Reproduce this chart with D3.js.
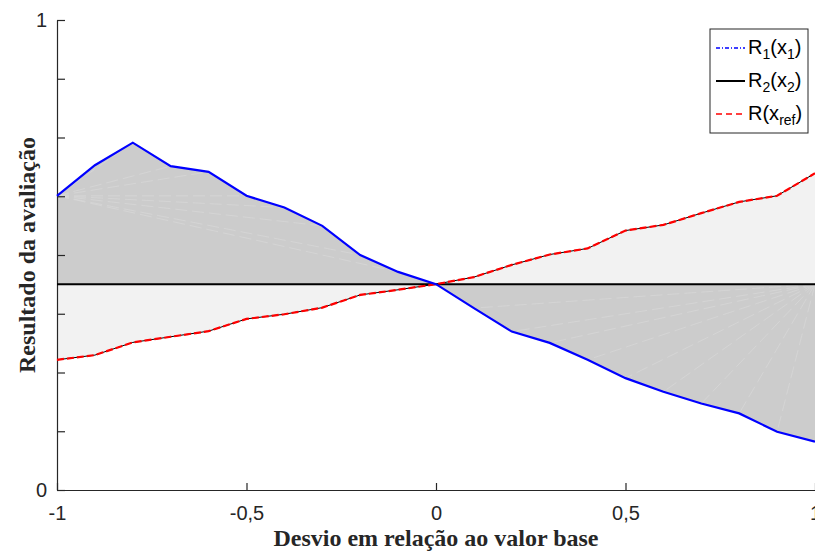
<!DOCTYPE html>
<html>
<head>
<meta charset="utf-8">
<script src="https://cdn.jsdelivr.net/npm/d3@7"></script>
<style>
  body { margin: 0; background: #fff; }
  svg { display: block; }
</style>
</head>
<body>
<script>
(function(){
  var width = 815;
  var height = 554;
  var margin = { top: 20, right: 0, bottom: 64, left: 57 };

  // desvio em relacao ao valor base
  var desvio = [-1, -0.9, -0.8, -0.7, -0.6, -0.5, -0.4, -0.3, -0.2, -0.1, 0,
                0.1, 0.2, 0.3, 0.4, 0.5, 0.6, 0.7, 0.8, 0.9, 1];
  var r1 = [0.626, 0.691, 0.739, 0.689, 0.677, 0.626, 0.601, 0.562, 0.500, 0.464, 0.438,
            0.387, 0.337, 0.313, 0.277, 0.238, 0.209, 0.184, 0.163, 0.124, 0.103];
  var rRef = [0.277, 0.287, 0.314, 0.326, 0.338, 0.364, 0.374, 0.388, 0.415, 0.426, 0.438,
              0.453, 0.479, 0.501, 0.514, 0.552, 0.564, 0.589, 0.613, 0.626, 0.674];
  var r2 = 0.438;

  var xTicks = [-1, -0.5, 0, 0.5, 1];
  var xTickLabels = ["-1", "-0,5", "0", "0,5", "1"];
  var yTicks = [0, 0.125, 0.25, 0.375, 0.5, 0.625, 0.75, 0.875, 1];
  var yTickLabels = { 0: "0", 1: "1" };

  var svg = d3.select("body").append("svg")
    .attr("width", width)
    .attr("height", height);

  var x = d3.scaleLinear().domain([-1, 1]).range([margin.left, width - margin.right]);
  var y = d3.scaleLinear().domain([0, 1]).range([height - margin.bottom, margin.top]);

  var pts = desvio.map(function(d, i) { return { x: d, a: r1[i], b: rRef[i] }; });

  // filled regions
  var areaRef = d3.area().x(function(d) { return x(d.x); })
    .y0(y(r2)).y1(function(d) { return y(d.b); });
  var area1 = d3.area().x(function(d) { return x(d.x); })
    .y0(y(r2)).y1(function(d) { return y(d.a); });

  svg.append("path").datum(pts).attr("d", areaRef).attr("fill", "#f2f2f2");
  svg.append("path").datum(pts).attr("d", area1).attr("fill", "#cccccc");

  // faint seams inside the dark fill (patch triangulation of the original)
  var seams = svg.append("g").attr("stroke", "#dadada").attr("stroke-width", 0.6)
    .attr("stroke-dasharray", "12,5").attr("fill", "none");
  pts.forEach(function(d) {
    if (d.x < 0 && d.x > -1) {
      seams.append("line").attr("x1", x(-1)).attr("y1", y(r1[0]))
        .attr("x2", x(d.x)).attr("y2", y(d.a));
    } else if (d.x > 0 && d.x < 1) {
      seams.append("line").attr("x1", x(1)).attr("y1", y(r2))
        .attr("x2", x(d.x)).attr("y2", y(d.a));
    }
  });

  // axes
  var axisColor = "#262626";
  var xAxis = d3.axisBottom(x).tickValues(xTicks).tickSizeInner(-7).tickSizeOuter(0)
    .tickFormat(function(d, i) { return xTickLabels[i]; }).tickPadding(16);
  var gx = svg.append("g").attr("transform", "translate(0," + y(0) + ")").call(xAxis);

  var yAxis = d3.axisLeft(y).tickValues(yTicks).tickSizeInner(-8).tickSizeOuter(0)
    .tickFormat(function(d) { return yTickLabels[d] || ""; }).tickPadding(10);
  var gy = svg.append("g").attr("transform", "translate(" + x(-1) + ",0)").call(yAxis);

  [gx, gy].forEach(function(g) {
    g.selectAll("path, line").attr("stroke", axisColor).attr("stroke-width", 1.2);
    g.selectAll("text").attr("fill", axisColor)
      .style("font-family", "'Liberation Sans', Arial, sans-serif").style("font-size", "20px");
  });
  gx.selectAll("text").attr("dy", "0.71em");

  // lines
  var line = function(key) {
    return d3.line().x(function(d) { return x(d.x); }).y(function(d) { return y(d[key]); });
  };

  svg.append("line")
    .attr("x1", x(-1)).attr("x2", x(1)).attr("y1", y(r2)).attr("y2", y(r2))
    .attr("stroke", "#000").attr("stroke-width", 2);

  svg.append("path").datum(pts).attr("d", line("b"))
    .attr("fill", "none").attr("stroke", "#000").attr("stroke-width", 1);
  svg.append("path").datum(pts).attr("d", line("b"))
    .attr("fill", "none").attr("stroke", "#ff0000").attr("stroke-width", 2.2)
    .attr("stroke-dasharray", "7,3");

  svg.append("path").datum(pts).attr("d", line("a"))
    .attr("fill", "none").attr("stroke", "#0000ff").attr("stroke-width", 2.2);

  // axis titles
  svg.append("text")
    .attr("x", x(0)).attr("y", 546)
    .attr("text-anchor", "middle")
    .style("font-family", "'Liberation Serif', 'Times New Roman', serif")
    .style("font-weight", "bold").style("font-size", "24px").attr("fill", "#262626")
    .text("Desvio em relação ao valor base");

  svg.append("text")
    .attr("transform", "translate(35," + y(0.5) + ") rotate(-90)")
    .attr("text-anchor", "middle")
    .style("font-family", "'Liberation Serif', 'Times New Roman', serif")
    .style("font-weight", "bold").style("font-size", "24px").attr("fill", "#262626")
    .text("Resultado da avaliação");

  // legend
  var legend = svg.append("g").attr("transform", "translate(710,29)");
  legend.append("rect").attr("width", 98).attr("height", 104)
    .attr("fill", "#fff").attr("stroke", "#262626").attr("stroke-width", 1);

  var items = [
    { name: "R", sub1: "1", sub2: "1", color: "#0000ff", dash: "4,2,1,2", w: 1.5 },
    { name: "R", sub1: "2", sub2: "2", color: "#000", dash: null, w: 2 },
    { name: "R", sub1: "", sub2: "ref", color: "#ff0000", dash: "6,4", w: 1.5 }
  ];
  items.forEach(function(it, i) {
    var cy = 19 + i * 33;
    var l = legend.append("line").attr("x1", 6).attr("x2", 35).attr("y1", cy).attr("y2", cy)
      .attr("stroke", it.color).attr("stroke-width", it.w);
    if (it.dash) l.attr("stroke-dasharray", it.dash);
    var t = legend.append("text").attr("x", 38).attr("y", cy + 6)
      .style("font-family", "'Liberation Sans', Arial, sans-serif").style("font-size", "20px")
      .attr("fill", "#000");
    t.append("tspan").text(it.name);
    if (it.sub1) {
      t.append("tspan").attr("dy", 5).style("font-size", "14px").text(it.sub1);
      t.append("tspan").attr("dy", -5).text("(x");
    } else {
      t.append("tspan").text("(x");
    }
    t.append("tspan").attr("dy", 5).style("font-size", "14px").text(it.sub2);
    t.append("tspan").attr("dy", -5).text(")");
  });
})();
</script>
</body>
</html>
